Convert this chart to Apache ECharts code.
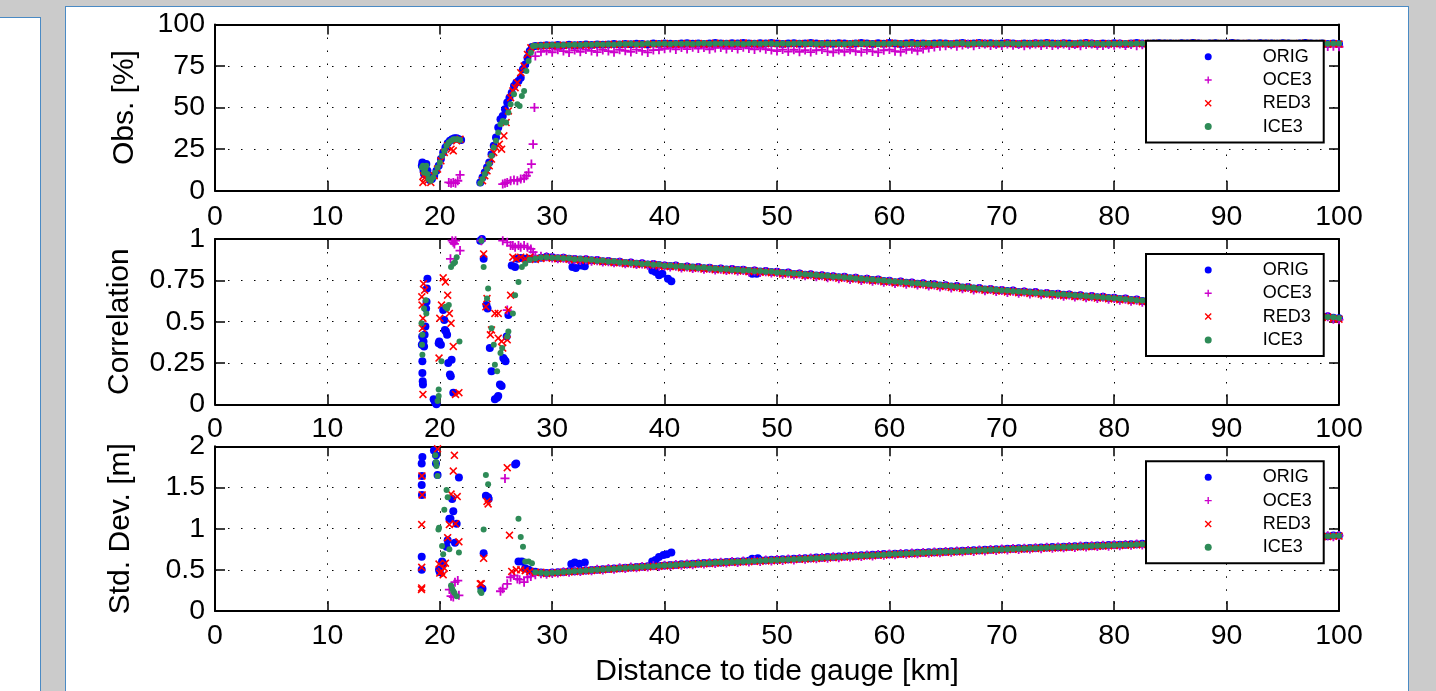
<!DOCTYPE html>
<html><head><meta charset="utf-8">
<script src="https://cdn.jsdelivr.net/npm/echarts@6/dist/echarts.min.js"></script>
<style>
html,body{margin:0;padding:0;width:1436px;height:691px;overflow:hidden;background:#cbcbcb;}
#lp{position:absolute;left:-1px;top:17px;width:40px;height:700px;background:#fff;border:1px solid #4a8ac4;}
#mp{position:absolute;left:65px;top:6px;width:1342px;height:700px;background:#fff;border:1px solid #4a8ac4;}
#chart{position:absolute;left:0;top:0;width:1436px;height:691px;}
</style></head>
<body>
<div id="lp"></div><div id="mp"></div><div id="chart"></div>
<script>
// ---------- DATA ----------
const seriesNames = ['ORIG','OCE3','RED3','ICE3'];
const yAxisNames = ['Obs. [%]','Correlation','Std. Dev. [m]'];
const xAxisName = 'Distance to tide gauge [km]';
const xTicks = [0,10,20,30,40,50,60,70,80,90,100];
const yTicks1 = [0,25,50,75,100];
const yTicks2 = [0,0.25,0.5,0.75,1];
const yTicks3 = [0,0.5,1,1.5,2];

// shared distances of the dense part (km)
const bandX = [28.5,29,29.5,30,30.5,31,31.5,32,32.5,33,33.5,34,34.5,35,35.5,36,36.5,37,37.5,38,38.5,39,39.5,40,40.5,41,41.5,42,42.5,43,43.5,44,44.5,45,45.5,46,46.5,47,47.5,48,48.5,49,49.5,50,50.5,51,51.5,52,52.5,53,53.5,54,54.5,55,55.5,56,56.5,57,57.5,58,58.5,59,59.5,60,60.5,61,61.5,62,62.5,63,63.5,64,64.5,65,65.5,66,66.5,67,67.5,68,68.5,69,69.5,70,70.5,71,71.5,72,72.5,73,73.5,74,74.5,75,75.5,76,76.5,77,77.5,78,78.5,79,79.5,80,80.5,81,81.5,82,82.5,83,83.5,84,84.5,85,85.5,86,86.5,87,87.5,88,88.5,89,89.5,90,90.5,91,91.5,92,92.5,93,93.5,94,94.5,95,95.5,96,96.5,97,97.5,98,98.5,99,99.5,100];

// ---- Obs. [%] ----
const obsOrigEarly = [[18.4,15],[18.45,17],[18.5,16],[18.55,12],[18.6,10],[18.7,14],[18.8,16],[18.9,12],[19.0,8],[19.1,6.5],[19.3,7],[19.5,9],[19.7,12],[19.9,15],[20.1,19],[20.3,23],[20.5,26],[20.7,28.5],[20.9,30],[21.1,31],[21.3,31.5],[21.5,31.5],[21.7,31],[21.9,30.5],
 [23.6,5],[23.8,8],[24.0,11],[24.2,14],[24.4,17],[24.6,22],[24.8,27],[25.0,32],[25.2,38],[25.4,43],[25.6,45],[25.8,49],[26.0,53],[26.2,56],[26.4,59],[26.6,63],[26.8,65],[27.0,66],[27.2,68],[27.4,73],[27.6,76],[27.8,80],[28.0,84],[28.2,86.5]];
const obsOceEarly = [[20.8,5],[21.0,4.5],[21.2,5],[21.4,4.5],[21.6,6],[21.8,9.5],
 [25.6,4],[25.8,4.5],[26.0,5],[26.3,6],[26.6,6.5],[26.9,6],[27.2,7],[27.5,7.5],[27.7,9],[27.9,11],[28.15,16],[28.3,28],[28.42,50]];
const obsRedEarly = [[18.5,5],[18.55,9],[18.6,12],[18.7,8],[18.9,6],[19.2,5],[19.5,9],[19.8,13],[20.1,18],[20.4,23],[20.7,27],[21.0,25],[21.2,24],[21.5,30],[21.8,31],
 [23.8,6],[24.0,9],[24.2,12],[24.4,15],[24.6,19],[24.8,23],[25.0,26],[25.3,28],[25.5,25],[25.7,33],[25.9,41],[26.1,48],[26.3,56],[26.5,60],[26.7,62],[26.9,65],[27.2,71],[27.5,75],[27.8,82],[28.1,86]];
const obsIceEarly = [[18.4,14],[18.5,15],[18.6,11],[18.7,13],[18.8,15],[18.9,10],[19.0,7],[19.2,6],[19.4,8],[19.6,11],[19.8,14],[20.0,17],[20.2,21],[20.4,24],[20.6,27],[20.8,29],[21.0,30],[21.2,31],[21.4,31],[21.6,31],[21.8,30.5],
 [23.6,4.5],[23.8,7],[24.0,10],[24.2,13],[24.4,16],[24.6,21],[24.8,26],[25.0,30],[25.2,35],[25.4,40],[25.6,42],[25.9,41],[26.1,47],[26.3,52],[26.6,58],[26.9,52],[27.1,51],[27.3,57],[27.5,60],[27.7,72],[27.9,78],[28.1,83],[28.3,87]];

const obsOrigBand = [87,87.2,87.5,87.3,87.6,87.4,87.8,87.5,87.7,87.9,87.6,88,87.8,
 88,88.2,87.9,88.3,88.1,88.4,88.2,88,88.5,88.3,88.6,88.4,88.2,88.5,88.7,88.4,88.6,88.3,88.5,88.8,
 88.6,88.4,88.7,88.5,88.9,88.6,88.4,88.7,88.5,88.8,88.6,88.3,88.5,88.7,88.4,88.6,88.8,88.5,88.3,88.6,
 88.4,88.7,88.5,88.2,88.6,88.8,88.5,88.3,88.7,88.4,88.9,88.6,88.3,88.5,88.8,88.4,88.6,88.2,88.5,88.7,
 88.5,88.3,88.6,88.8,88.4,88.6,88.9,88.5,88.7,88.4,88.6,88.8,88.5,88.3,88.6,88.4,88.7,88.5,88.8,88.6,
 88.4,88.7,88.5,88.2,88.6,88.8,88.5,88.3,88.6,88.4,88.7,88.5,88.3,88.6,88.8,88.5,88.4,88.6,88.7,88.5,
 88.6,88.4,88.7,88.5,88.8,88.6,88.3,88.5,88.7,88.4,88.6,88.8,88.5,88.3,88.6,88.4,88.7,88.5,88.6,88.4,
 88.7,88.5,88.3,88.6,88.8,88.5,88.4,88.6,88.2,88.5,88.3];
const obsOceBand = [81,83.6,84.2,83.3,84.8,84,83.2,84.6,83.6,84.9,84.1,83.4,84.7,
 84,83.3,84.8,84.2,83.5,84.9,84.1,83.2,84.6,84.8,85.4,85.9,85,86.1,85.2,86.3,85.5,86.2,85.1,85.9,
 86.2,85.3,86.1,85.2,86.3,85.6,85,86,85.1,84.6,84,84.9,83.7,84.8,83.6,84.6,83.4,84.5,84.9,83.8,
 83.3,84.6,83.6,84.8,83.9,83.4,84.7,83.8,83.2,84.5,84.9,83.9,83.5,84.8,85.1,84.2,85.3,85.8,86.4,86.9,
 87.2,87.8,86.9,87.6,88.1,87.2,87.9,88.2,87.3,87.9,87.4,88.3,87.5,88,87.2,87.8,88.2,87.4,87.9,87.3,
 87.8,88.2,87.4,88,87.2,87.9,88.3,87.5,87.3,88,87.5,88.2,87.4,87.9,87.2,87.8,88.1,87.4,87.9,87.3,
 87.8,87.4,88,87.2,87.9,88.1,87.5,87.3,87.9,87.4,88,87.2,87.8,88.1,87.5,87.3,87.9,87.4,87.8,87.2,
 87.6,87.9,87.3,87.7,87.1,87.6,87,87.4,86.8,86.9,86.6];
const obsRedBand = [86.8,87.1,87.4,87.2,87.5,87.3,87.6,87.4,87.7,87.5,87.8,87.6,87.9,
 87.8,88.1,87.9,88.2,88,88.3,88.1,87.9,88.4,88.2,88.5,88.3,88.1,88.4,88.6,88.3,88.5,88.2,88.4,88.7,
 88.5,88.3,88.6,88.4,88.8,88.5,88.3,88.6,88.4,88.7,88.5,88.2,88.4,88.6,88.3,88.5,88.7,88.4,88.2,88.5,
 88.3,88.6,88.4,88.1,88.5,88.7,88.4,88.2,88.6,88.3,88.8,88.5,88.2,88.4,88.7,88.3,88.5,88.1,88.4,88.6,
 88.4,88.2,88.5,88.7,88.3,88.5,88.8,88.4,88.6,88.3,88.5,88.7,88.4,88.2,88.5,88.3,88.6,88.4,88.7,88.5,
 88.3,88.6,88.4,88.1,88.5,88.7,88.4,88.2,88.5,88.3,88.6,88.4,88.2,88.5,88.7,88.4,88.3,88.5,88.6,88.4,
 88.5,88.3,88.6,88.4,88.7,88.5,88.2,88.4,88.6,88.3,88.5,88.7,88.4,88.2,88.5,88.3,88.6,88.4,88.5,88.3,
 88.6,88.4,88.2,88.5,88.7,88.4,88.3,88.5,88.1,88.4,88.2];
const obsIceBand = [87.2,87.4,87.3,87.6,87.5,87.7,87.6,87.8,87.6,87.9,87.8,88.1,88,
 88.1,88,88.3,88.2,88.4,88.1,88.3,88.5,88.2,88.4,88.6,88.3,88.5,88.4,88.6,88.3,88.5,88.7,88.4,88.6,
 88.5,88.7,88.4,88.6,88.3,88.5,88.7,88.4,88.6,88.5,88.3,88.6,88.4,88.5,88.7,88.4,88.6,88.3,88.5,88.4,
 88.6,88.4,88.3,88.5,88.7,88.4,88.6,88.5,88.3,88.6,88.4,88.7,88.5,88.4,88.6,88.3,88.5,88.7,88.4,88.5,
 88.6,88.4,88.5,88.7,88.3,88.5,88.6,88.4,88.5,88.7,88.4,88.6,88.5,88.3,88.5,88.6,88.4,88.7,88.5,88.4,
 88.5,88.6,88.3,88.5,88.7,88.4,88.6,88.5,88.3,88.6,88.4,88.5,88.7,88.4,88.5,88.6,88.3,88.5,88.6,88.4,
 88.5,88.7,88.4,88.6,88.5,88.3,88.6,88.4,88.5,88.7,88.4,88.6,88.3,88.5,88.6,88.4,88.5,88.7,88.4,88.5,
 88.6,88.4,88.5,88.3,88.6,88.4,88.5,88.7,88.4,88.5,88.6];

// ---- Correlation ----
const corOrigEarly = [[18.4,0.36],[18.43,0.41],[18.45,0.26],[18.45,0.19],[18.48,0.14],[18.5,0.12],[18.55,0.38],[18.6,0.35],[18.65,0.42],[18.72,0.47],[18.78,0.58],[18.82,0.62],[18.85,0.70],[18.9,0.76],
 [19.45,0.03],[19.55,0.02],[19.6,0.01],[19.7,0.0],[19.9,0.37],[19.95,0.38],[20.1,0.36],[20.3,0.57],[20.4,0.51],[20.45,0.45],[20.55,0.44],[20.65,0.42],[20.75,0.25],[20.9,0.18],[20.98,0.17],[21.05,0.27],[21.2,0.07],
 [23.6,0.99],[23.75,1.0],[23.9,0.88],[24.15,0.60],[24.25,0.58],[24.45,0.34],[24.6,0.2],[24.9,0.03],[25.1,0.04],[25.2,0.05],[25.35,0.12],[25.5,0.11],[25.65,0.28],[25.75,0.27],[25.85,0.26],[25.95,0.41],[26.1,0.54],[26.4,0.84],[26.7,0.83],[26.9,0.88],[27.2,0.885],[27.6,0.88],[28.0,0.88],
 [31.8,0.83],[32.1,0.825],[32.6,0.84],[32.9,0.835],[38.9,0.81],[39.2,0.80],[39.5,0.78],[39.8,0.79],[40.3,0.76],[40.6,0.745],[47.8,0.79],[48.2,0.79]];
const corOceEarly = [[20.95,0.88],[21.1,0.99],[21.2,0.98],[21.3,0.97],[21.4,0.99],[21.8,0.93],[23.7,0.99],[25.6,0.99],[26.0,0.57],[26.0,0.98],[26.3,0.96],[26.5,0.96],[26.7,0.95],[27.0,0.96],[27.2,0.95],[27.5,0.96],[27.8,0.95],[28.1,0.94],[28.3,0.92]];
const corRedEarly = [[18.4,0.65],[18.42,0.6],[18.55,0.73],[18.65,0.69],[18.5,0.52],[18.45,0.46],[18.5,0.06],[19.93,0.28],[20.15,0.60],[20.0,0.52],[20.3,0.765],[20.5,0.74],[20.7,0.66],[20.85,0.55],[21.0,0.49],[21.2,0.35],[21.4,0.06],[21.7,0.07],
 [23.9,0.91],[24.1,0.59],[24.2,0.64],[24.5,0.42],[24.6,0.45],[24.9,0.55],[25.2,0.55],[25.2,0.40],[25.5,0.38],[25.6,0.34],[26.0,0.39],[26.1,0.57],[26.3,0.66],[26.5,0.89],[26.8,0.88],[27.2,0.89],[27.6,0.88],[28.0,0.89]];
const corIceEarly = [[18.37,0.49],[18.45,0.42],[18.42,0.36],[18.45,0.30],[18.75,0.63],[18.8,0.55],[18.6,0.58],[19.9,0.09],[19.9,0.05],[19.8,0.02],[20.15,0.26],[20.5,0.59],[20.8,0.60],[20.65,0.58],[21.75,0.38],[21.0,0.83],[21.2,0.85],[21.35,0.86],[21.5,0.89],
 [23.7,0.99],[23.9,0.83],[24.3,0.70],[24.2,0.64],[24.6,0.46],[24.8,0.36],[24.9,0.24],[25.1,0.20],[25.4,0.31],[25.55,0.34],[26.0,0.41],[26.1,0.44],[26.5,0.55],[26.7,0.66],[27.0,0.74],[27.3,0.83],[27.6,0.85],[28.0,0.875]];

const corOrigBand = [.880,.886,.892,.889,.884,.887,.881,.879,.876,.878,.871,.873,.866,
 .867,.861,.863,.855,.858,.851,.853,.846,.849,.842,.840,.837,.839,.831,.834,.828,.830,.823,.826,.819,
 .821,.815,.818,.812,.814,.807,.810,.804,.806,.801,.802,.794,.797,.789,.792,.784,.787,.779,.781,.774,
 .775,.768,.771,.763,.766,.757,.760,.752,.755,.746,.747,.739,.743,.735,.737,.729,.732,.723,.726,.718,
 .720,.712,.715,.707,.710,.700,.703,.695,.698,.690,.692,.685,.688,.680,.683,.676,.679,.671,.674,.667,
 .669,.662,.665,.657,.660,.652,.655,.648,.651,.643,.644,.637,.640,.631,.634,.625,.627,.618,.621,.613,
 .615,.607,.610,.601,.604,.596,.598,.590,.593,.584,.586,.578,.581,.572,.575,.566,.569,.560,.563,.554,
 .556,.548,.551,.542,.545,.536,.539,.530,.533,.523,.520];
const corOceBand = [.900,.896,.893,.885,.880,.884,.876,.875,.870,.874,.866,.869,.861,
 .863,.856,.859,.850,.854,.846,.849,.841,.845,.836,.836,.831,.835,.825,.830,.822,.826,.817,.822,.813,
 .817,.809,.814,.806,.810,.800,.806,.797,.802,.794,.797,.787,.793,.782,.788,.777,.783,.772,.777,.766,
 .771,.760,.767,.755,.762,.749,.756,.744,.751,.738,.743,.731,.739,.727,.733,.721,.728,.715,.722,.710,
 .716,.704,.711,.699,.706,.692,.699,.687,.694,.682,.688,.677,.684,.672,.679,.668,.675,.663,.670,.659,
 .665,.654,.661,.649,.656,.644,.651,.640,.647,.635,.640,.629,.636,.623,.630,.617,.623,.610,.617,.605,
 .611,.599,.606,.593,.600,.588,.594,.582,.589,.576,.582,.570,.577,.564,.571,.558,.565,.552,.559,.546,
 .552,.540,.547,.534,.541,.528,.535,.522,.529,.515,.512];
const corRedBand = [.876,.882,.886,.884,.880,.882,.877,.874,.872,.873,.867,.868,.862,
 .862,.857,.858,.851,.853,.846,.848,.842,.844,.837,.835,.833,.834,.826,.829,.823,.825,.818,.821,.814,
 .816,.810,.813,.807,.809,.802,.805,.799,.801,.796,.797,.789,.792,.784,.787,.779,.782,.774,.776,.769,
 .770,.763,.766,.758,.761,.752,.755,.747,.750,.741,.742,.734,.738,.730,.732,.724,.727,.718,.721,.713,
 .715,.707,.710,.702,.705,.695,.698,.690,.693,.685,.687,.680,.683,.675,.678,.671,.674,.666,.669,.662,
 .664,.657,.660,.652,.655,.647,.650,.643,.646,.638,.639,.632,.635,.626,.629,.620,.622,.613,.616,.608,
 .610,.602,.605,.596,.599,.591,.593,.585,.588,.579,.581,.573,.576,.567,.570,.561,.564,.555,.558,.549,
 .551,.543,.546,.537,.540,.531,.534,.525,.528,.518,.515];
const corIceBand = [.882,.888,.890,.886,.887,.883,.884,.877,.879,.874,.875,.869,.870,
 .864,.865,.858,.860,.853,.855,.849,.850,.844,.845,.838,.840,.834,.836,.829,.831,.825,.827,.821,.822,
 .817,.819,.813,.814,.809,.811,.805,.806,.802,.803,.798,.797,.793,.792,.788,.787,.783,.782,.778,.777,
 .772,.771,.767,.766,.761,.760,.756,.755,.750,.749,.744,.743,.739,.738,.733,.732,.728,.727,.722,.721,
 .717,.716,.711,.710,.706,.705,.699,.698,.694,.693,.689,.688,.684,.683,.679,.678,.674,.673,.669,.670,
 .665,.666,.661,.660,.656,.655,.651,.650,.646,.645,.641,.640,.635,.634,.629,.628,.623,.622,.617,.616,
 .611,.610,.605,.604,.599,.598,.593,.592,.588,.587,.582,.581,.576,.575,.570,.569,.564,.563,.558,.557,
 .552,.551,.546,.545,.540,.539,.534,.533,.528,.526,.522];

// ---- Std. Dev. [m] ----
const stdOrigEarly = [[18.39,1.79],[18.45,1.87],[18.41,1.64],[18.39,1.53],[18.41,1.41],[18.39,0.66],[18.39,0.5],[19.48,1.95],[19.66,1.89],[19.66,1.79],[19.8,1.65],[19.93,0.50],[20.0,0.47],[20.2,0.60],[20.3,0.58],[20.6,0.78],[20.7,0.86],[20.85,1.12],[20.95,1.12],[21.1,1.36],[21.2,1.21],[21.5,1.06],[21.35,0.83],[21.7,1.62],
 [23.7,0.28],[23.8,0.27],[23.9,0.70],[24.1,1.40],[24.3,1.38],[24.35,1.36],[26.7,1.78],[26.8,1.79],[27.0,0.60],[27.3,0.60],[27.6,0.52],[27.9,0.50],[28.2,0.48],
 [31.7,0.57],[32.0,0.59],[32.4,0.575],[32.9,0.59],[38.9,0.60],[39.2,0.62],[39.5,0.655],[39.9,0.68],[40.2,0.69],[40.6,0.71],[47.8,0.635],[48.3,0.64]];
const stdOceEarly = [[20.85,0.26],[21.0,0.18],[21.2,0.17],[21.35,0.35],[21.6,0.37],[21.7,0.19],[25.4,0.24],[25.6,0.27],[25.8,1.61],[26.0,0.33],[26.3,0.41],[26.6,0.43],[26.9,0.39],[27.1,0.38],[27.5,0.35],[27.8,0.41],[28.1,0.42]];
const stdRedEarly = [[18.41,1.64],[18.43,1.41],[18.39,1.05],[18.39,0.53],[18.39,0.28],[18.37,0.26],[19.8,1.97],[19.93,0.57],[20.0,0.46],[20.15,0.48],[20.3,0.44],[20.5,0.58],[20.4,0.52],[20.7,0.89],[20.85,1.05],[21.0,1.42],[21.2,1.70],[21.3,1.89],[21.4,1.06],[21.55,1.39],[21.7,0.84],
 [23.6,0.33],[23.7,0.33],[23.9,0.64],[24.2,1.33],[24.3,1.30],[26.0,1.74],[26.2,0.92],[26.4,0.48],[26.8,0.50],[27.2,0.50],[27.6,0.49],[28.0,0.48]];
const stdIceEarly = [[19.6,1.89],[19.66,1.81],[19.7,1.76],[19.8,1.64],[19.93,1.01],[19.88,0.99],[20.2,0.79],[20.3,0.69],[20.6,1.47],[20.7,1.38],[20.4,1.23],[20.85,0.75],[21.0,0.31],[21.1,0.27],[21.2,0.24],[21.3,0.22],[21.5,0.18],[21.7,0.71],
 [23.6,0.24],[23.7,0.22],[23.9,0.99],[24.1,1.65],[24.3,1.54],[27.0,1.12],[27.2,0.90],[27.4,0.78],[27.6,0.60],[27.9,0.60],[28.2,0.58]];

const stdOrigBand = [.478,.466,.462,.468,.471,.474,.482,.483,.490,.492,.499,.501,.508,
 .510,.517,.519,.525,.528,.534,.536,.542,.545,.551,.552,.559,.560,.567,.568,.575,.576,.582,.583,.589,
 .590,.596,.597,.602,.604,.609,.610,.615,.616,.621,.621,.628,.627,.635,.634,.642,.641,.649,.648,.656,
 .655,.663,.662,.670,.669,.677,.676,.684,.683,.691,.690,.696,.696,.702,.702,.708,.708,.714,.714,.720,
 .720,.725,.726,.731,.732,.737,.738,.743,.744,.749,.750,.756,.755,.761,.760,.766,.765,.771,.770,.776,
 .775,.781,.780,.786,.785,.791,.790,.796,.795,.801,.800,.806,.805,.811,.810,.816,.815,.822,.821,.827,
 .826,.833,.832,.839,.838,.844,.844,.850,.849,.856,.855,.862,.861,.868,.867,.874,.873,.880,.879,.886,
 .885,.892,.891,.898,.897,.904,.903,.910,.909,.916,.918];
const stdOceBand = [.440,.452,.447,.458,.462,.478,.470,.486,.480,.497,.490,.506,.498,
 .515,.506,.524,.515,.533,.524,.541,.533,.549,.541,.557,.548,.565,.556,.572,.563,.579,.570,.586,.577,
 .593,.584,.600,.590,.606,.596,.612,.602,.618,.608,.624,.614,.630,.620,.637,.627,.644,.634,.651,.641,
 .658,.648,.665,.655,.672,.662,.679,.669,.686,.676,.693,.682,.699,.688,.705,.694,.711,.700,.717,.706,
 .723,.712,.729,.718,.735,.724,.741,.730,.747,.736,.753,.742,.758,.747,.763,.752,.768,.757,.773,.762,
 .778,.767,.783,.772,.788,.777,.793,.782,.798,.787,.803,.792,.808,.797,.813,.802,.819,.808,.825,.814,
 .831,.820,.837,.826,.843,.831,.848,.837,.854,.843,.860,.849,.866,.855,.872,.861,.878,.867,.884,.873,
 .890,.879,.896,.885,.902,.891,.908,.897,.914,.903,.916];
const stdRedBand = [.468,.470,.455,.462,.465,.471,.474,.479,.484,.487,.493,.496,.501,
 .506,.509,.515,.518,.524,.526,.533,.535,.541,.543,.548,.551,.556,.558,.564,.566,.571,.573,.578,.580,
 .585,.587,.591,.593,.597,.599,.603,.605,.609,.611,.615,.617,.621,.624,.628,.630,.635,.637,.642,.644,
 .649,.651,.656,.658,.663,.665,.670,.672,.677,.679,.684,.686,.690,.692,.696,.698,.702,.704,.708,.710,
 .714,.716,.720,.722,.726,.728,.732,.734,.738,.740,.744,.746,.749,.751,.754,.756,.759,.761,.764,.766,
 .769,.771,.774,.776,.779,.781,.784,.786,.789,.791,.794,.796,.799,.801,.804,.806,.809,.812,.815,.818,
 .821,.824,.827,.830,.833,.836,.838,.841,.844,.847,.850,.853,.856,.859,.862,.865,.868,.871,.874,.877,
 .880,.883,.886,.889,.892,.895,.898,.901,.904,.907,.910];
const stdIceBand = [.472,.464,.458,.463,.468,.473,.477,.482,.486,.491,.495,.500,.504,
 .509,.513,.518,.522,.527,.531,.536,.540,.544,.548,.552,.556,.560,.564,.567,.571,.574,.578,.581,.585,
 .588,.591,.594,.597,.600,.603,.606,.609,.612,.615,.618,.621,.625,.628,.632,.635,.639,.642,.646,.649,
 .653,.656,.660,.663,.667,.670,.674,.677,.681,.684,.688,.691,.694,.697,.700,.703,.706,.709,.712,.715,
 .718,.721,.724,.727,.730,.733,.736,.739,.742,.745,.748,.751,.753,.756,.758,.761,.763,.766,.768,.771,
 .773,.776,.778,.781,.783,.786,.788,.791,.793,.796,.798,.801,.803,.806,.808,.811,.814,.817,.820,.823,
 .826,.829,.832,.835,.838,.841,.843,.846,.849,.852,.855,.858,.861,.864,.867,.870,.873,.876,.879,.882,
 .885,.888,.891,.894,.897,.900,.903,.906,.909,.912,.915];

// ---------- BUILD ----------
function pts(early, band){
  const out = early.slice();
  for (let i = 0; i < bandX.length && i < band.length; i++) out.push([bandX[i], band[i]]);
  return out;
}
const panels = [
  {ticks: yTicks1, data: [pts(obsOrigEarly,obsOrigBand), pts(obsOceEarly,obsOceBand), pts(obsRedEarly,obsRedBand), pts(obsIceEarly,obsIceBand)]},
  {ticks: yTicks2, data: [pts(corOrigEarly,corOrigBand), pts(corOceEarly,corOceBand), pts(corRedEarly,corRedBand), pts(corIceEarly,corIceBand)]},
  {ticks: yTicks3, data: [pts(stdOrigEarly,stdOrigBand), pts(stdOceEarly,stdOceBand), pts(stdRedEarly,stdRedBand), pts(stdIceEarly,stdIceBand)]}
];

const FONT = '"Liberation Sans", Arial, Helvetica, sans-serif';
const PLUS = 'path://M4,0H6V4H10V6H6V10H4V6H0V4H4Z';
const CROSS = 'path://M0,1.4L1.4,0L5,3.6L8.6,0L10,1.4L6.4,5L10,8.6L8.6,10L5,6.4L1.4,10L0,8.6L3.6,5Z';
const styles = [
  {symbol:'circle', size:8, color:'#0000ff'},
  {symbol:PLUS, size:9, color:'#cc00cc'},
  {symbol:CROSS, size:8, color:'#ff0000'},
  {symbol:'circle', size:6, color:'#2e8b57'}
];
const layout = [
  {top:24.5, height:166.2, legendTop:40.7, xMargin:12, nameGap:75},
  {top:239, height:165.3, legendTop:254, xMargin:10, nameGap:80},
  {top:446.3, height:164.7, legendTop:461.3, xMargin:11, nameGap:79}
];
const GL = 215, GW = 1124;
const lineS = {color:'#000', width:2};
const tickS = {color:'#000', width:1.5};
const labelS = {fontFamily:FONT, fontSize:28.5, color:'#000'};
const nameS = {fontFamily:FONT, fontSize:30, color:'#000'};

const option = {
  animation:false,
  backgroundColor:'transparent',
  grid: layout.map(l => ({left:GL, width:GW, top:l.top, height:l.height})),
  xAxis: [], yAxis: [], series: [],
  legend: layout.map(l => ({
    orient:'vertical', left:1146, top:l.legendTop, padding:[7,12,7,58.7],
    itemWidth:7, itemHeight:7, itemGap:5.3, backgroundColor:'#fff', borderColor:'#000', borderWidth:2,
    selectedMode:false, z:20,
    textStyle:{fontFamily:FONT, fontSize:18, color:'#000', lineHeight:18, padding:[0,0,0,46]},
    data: seriesNames.map((n,k) => ({name:n, icon:styles[k].symbol, itemStyle:{color:styles[k].color}}))
  }))
};
panels.forEach((p, g) => {
  const tk = p.ticks;
  const yMin = tk[0], yMax = tk[tk.length-1], yInt = tk[1]-tk[0];
  option.xAxis.push({gridIndex:g, type:'value', position:'bottom', min:xTicks[0], max:xTicks[xTicks.length-1], interval:xTicks[1]-xTicks[0],
    axisLine:{onZero:false, lineStyle:lineS}, axisTick:{inside:true, length:10, lineStyle:tickS},
    axisLabel:Object.assign({margin:layout[g].xMargin}, labelS),
    splitLine:{show:true, lineStyle:{color:'#000', width:1, type:[1.5,11.5]}},
    name: g===2 ? xAxisName : '', nameLocation:'middle', nameGap:46, nameTextStyle:nameS});
  option.xAxis.push({gridIndex:g, type:'value', position:'top', min:xTicks[0], max:xTicks[xTicks.length-1], interval:xTicks[1]-xTicks[0],
    axisLine:{onZero:false, lineStyle:lineS}, axisTick:{inside:true, length:10, lineStyle:tickS},
    axisLabel:{show:false}, splitLine:{show:false}});
  option.yAxis.push({gridIndex:g, type:'value', position:'left', min:yMin, max:yMax, interval:yInt,
    axisLine:{show:true, onZero:false, lineStyle:lineS}, axisTick:{show:true, inside:true, length:10, lineStyle:tickS},
    axisLabel:Object.assign({margin:10}, labelS),
    splitLine:{show:true, lineStyle:{color:'#000', width:1, type:[1.5,11.5]}},
    name:yAxisNames[g], nameLocation:'middle', nameRotate:90, nameGap:layout[g].nameGap, nameTextStyle:nameS});
  option.yAxis.push({gridIndex:g, type:'value', position:'right', min:yMin, max:yMax, interval:yInt,
    axisLine:{show:true, onZero:false, lineStyle:lineS}, axisTick:{show:true, inside:true, length:10, lineStyle:tickS},
    axisLabel:{show:false}, splitLine:{show:false}});
  p.data.forEach((d, k) => {
    option.series.push({type:'scatter', name:seriesNames[k], xAxisIndex:2*g, yAxisIndex:2*g,
      symbol:styles[k].symbol, symbolSize:styles[k].size, itemStyle:{color:styles[k].color, opacity:1},
      data:d, silent:true});
  });
});
const chart = echarts.init(document.getElementById('chart'), null, {renderer:'canvas'});
chart.setOption(option);
</script>
</body></html>
